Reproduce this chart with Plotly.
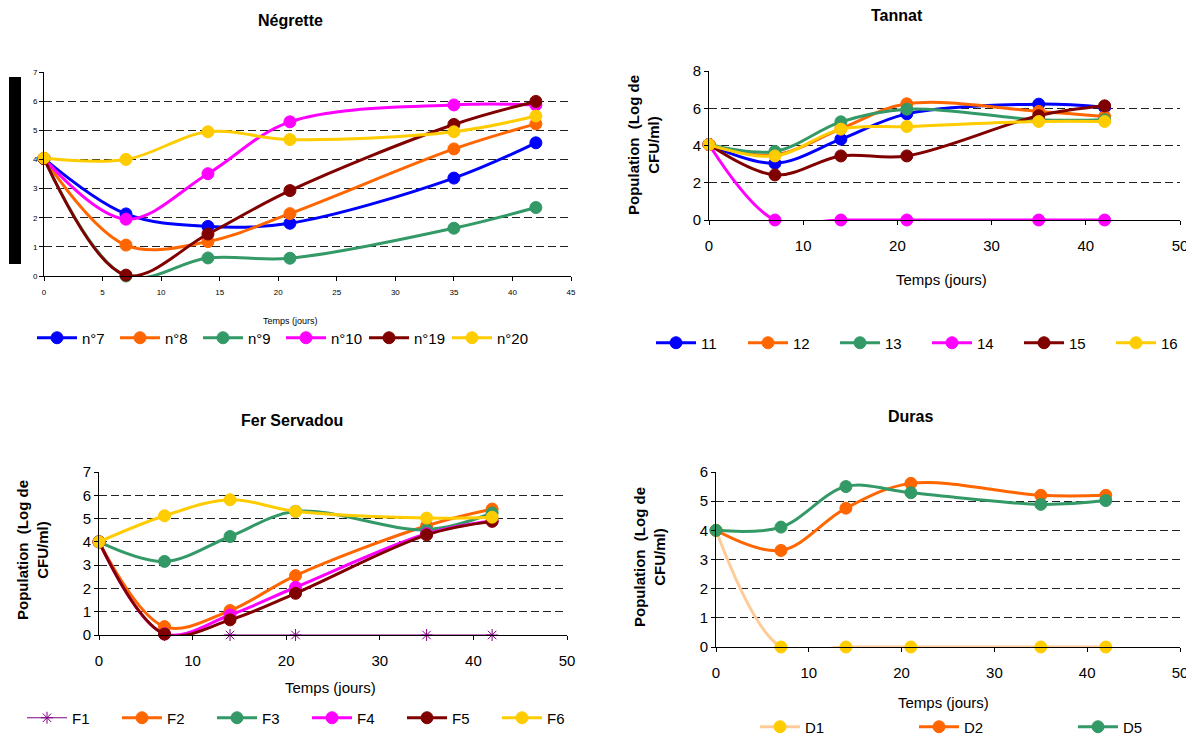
import plotly.graph_objects as go

# The page body has an 8px default margin; the figure is sized so that it
# fills the rest of the 1194x737 window.
PAGE_W, PAGE_H = 1194, 737
OFF = 8
W, H = PAGE_W - OFF, PAGE_H - OFF

days = [0, 7, 14, 21, 35, 42]

# Négrette
neg_names = ["n°7", "n°8", "n°9", "n°10", "n°19", "n°20"]
neg_n7 = [4.03, 2.13, 1.70, 1.81, 3.36, 4.57]
neg_n8 = [4.03, 1.06, 1.18, 2.14, 4.36, 5.22]
neg_n9 = [4.03, 0.0, 0.62, 0.61, 1.64, 2.35]
neg_n10 = [4.03, 1.95, 3.51, 5.29, 5.87, 5.87]
neg_n19 = [4.03, 0.03, 1.44, 2.93, 5.20, 5.99]
neg_n20 = [4.05, 4.00, 4.95, 4.68, 4.95, 5.49]

# Tannat
tan_names = ["11", "12", "13", "14", "15", "16"]
tan_11 = [4.05, 3.05, 4.34, 5.70, 6.22, 6.05]
tan_12 = [4.05, 3.50, 4.90, 6.24, 5.83, 5.56]
tan_13 = [4.05, 3.68, 5.27, 5.95, 5.38, 5.38]
tan_14 = [4.05, 0.0, 0.0, 0.0, 0.0, 0.0]
tan_15 = [4.05, 2.42, 3.44, 3.44, 5.60, 6.13]
tan_16 = [4.05, 3.44, 4.88, 5.02, 5.29, 5.29]

# Fer Servadou
fer_names = ["F1", "F2", "F3", "F4", "F5", "F6"]
fer_f1 = [4.0, 0.0, 0.0, 0.0, 0.0, 0.0]
fer_f2 = [4.0, 0.36, 1.05, 2.55, 4.69, 5.41]
fer_f3 = [4.0, 3.16, 4.23, 5.31, 4.52, 5.24]
fer_f4 = [4.0, 0.05, 0.86, 2.05, 4.35, 4.90]
fer_f5 = [4.0, 0.04, 0.65, 1.79, 4.30, 4.88]
fer_f6 = [4.0, 5.12, 5.81, 5.31, 5.02, 5.06]

# Duras
dur_names = ["D1", "D2", "D5"]
dur_d1 = [4.0, 0.0, 0.0, 0.0, 0.0, 0.0]
dur_d2 = [4.0, 3.31, 4.76, 5.61, 5.20, 5.20]
dur_d5 = [4.0, 4.11, 5.50, 5.29, 4.89, 5.02]

BLUE = "#0000FF"
ORANGE = "#FF6600"
GREEN = "#339966"
MAGENTA = "#FF00FF"
DRED = "#800000"
YELLOW = "#FFCC00"
PURPLE = "#800080"
PEACH = "#FFCC99"

FONT = "Liberation Sans, Arial, sans-serif"

fig = go.Figure()


def add(xa, ya, leg, name, ys, color, msize, lw=3, mcolor=None, symbol="circle"):
    fig.add_trace(go.Scatter(
        x=days, y=ys, name=name, mode="lines+markers",
        line=dict(color=color, width=lw, shape="spline", smoothing=1.0),
        marker=dict(color=mcolor or color, size=msize, symbol=symbol,
                    line=dict(color=mcolor or color, width=1)),
        xaxis=xa, yaxis=ya, legend=leg, cliponaxis=False,
    ))


neg_series = [neg_n7, neg_n8, neg_n9, neg_n10, neg_n19, neg_n20]
tan_series = [tan_11, tan_12, tan_13, tan_14, tan_15, tan_16]
cols6 = [BLUE, ORANGE, GREEN, MAGENTA, DRED, YELLOW]

for nm, ys, c in zip(neg_names, neg_series, cols6):
    add("x", "y", "legend", nm, ys, c, 12)
for nm, ys, c in zip(tan_names, tan_series, cols6):
    add("x2", "y2", "legend2", nm, ys, c, 12)

add("x3", "y3", "legend3", "F1", fer_f1, PURPLE, 10, lw=1.2, symbol="asterisk-open")
for nm, ys, c in zip(fer_names[1:], [fer_f2, fer_f3, fer_f4, fer_f5, fer_f6],
                     [ORANGE, GREEN, MAGENTA, DRED, YELLOW]):
    add("x3", "y3", "legend3", nm, ys, c, 12)

add("x4", "y4", "legend4", "D1", dur_d1, PEACH, 12, mcolor=YELLOW)
add("x4", "y4", "legend4", "D2", dur_d2, ORANGE, 12)
add("x4", "y4", "legend4", "D5", dur_d5, GREEN, 12)


def px_x(p):
    return (p - OFF) / W


def px_y(p):
    return 1 - (p - OFF) / H


def axes(xdom, ydom, xr, xd, yr, yd, fs, xstand):
    xa = dict(domain=xdom, range=xr, dtick=xd, tick0=0, showgrid=False,
              showline=True, linecolor="black", linewidth=1, ticks="outside",
              ticklen=4, tickcolor="black", zeroline=False,
              ticklabelstandoff=xstand,
              tickfont=dict(family=FONT, size=fs, color="black"))
    ya = dict(domain=ydom, range=yr, dtick=yd, tick0=0, showgrid=True,
              gridcolor="#222222", griddash="8px,4px", gridwidth=1,
              showline=True, linecolor="black", linewidth=1, ticks="outside",
              ticklen=4, tickcolor="black", zeroline=False,
              tickfont=dict(family=FONT, size=fs, color="black"))
    return xa, ya


x1, y1 = axes([px_x(44), px_x(571)], [px_y(276), px_y(72)], [0, 45], 5, [0, 7], 1, 8, 4)
x2, y2 = axes([px_x(709), px_x(1180)], [px_y(220), px_y(71)], [0, 50], 10, [0, 8], 2, 15, 8)
x3, y3 = axes([px_x(99), px_x(567)], [px_y(635), px_y(472)], [0, 50], 10, [0, 7], 1, 15, 8)
x4, y4 = axes([px_x(716), px_x(1180)], [px_y(647), px_y(472)], [0, 50], 10, [0, 6], 1, 15, 8)

x1.update(anchor="y"); y1.update(anchor="x")
x2.update(anchor="y2"); y2.update(anchor="x2")
x3.update(anchor="y3"); y3.update(anchor="x3")
x4.update(anchor="y4"); y4.update(anchor="x4")


def leg(x, y, ew, fs=15):
    return dict(orientation="h", x=x, y=y, xanchor="left", yanchor="middle",
                entrywidth=ew, entrywidthmode="pixels",
                font=dict(family=FONT, size=fs, color="black"),
                bgcolor="rgba(0,0,0,0)", itemwidth=40, tracegroupgap=0)


annotations = []


def text(x, y, s, size, bold=False, angle=0):
    annotations.append(dict(
        x=px_x(x), y=px_y(y), xref="paper", yref="paper", showarrow=False,
        text=f"<b>{s}</b>" if bold else s, textangle=angle,
        font=dict(family=FONT, size=size, color="black"),
        xanchor="center", yanchor="middle"))


text(290, 20, "Négrette", 16, bold=True)
text(897, 15, "Tannat", 16, bold=True)
text(292, 420, "Fer Servadou", 16, bold=True)
text(910, 416, "Duras", 16, bold=True)

text(290, 321, "Temps (jours)", 9)
text(941, 279, "Temps (jours)", 15)
text(330, 687, "Temps (jours)", 15)
text(943, 702, "Temps (jours)", 15)

ytitle = "Population  (Log de<br>CFU/ml)"
text(644, 145, ytitle, 15, bold=True, angle=-90)
text(32, 550, ytitle, 15, bold=True, angle=-90)
text(649, 557, ytitle, 15, bold=True, angle=-90)

fig.update_layout(
    width=W, height=H,
    margin=dict(l=0, r=0, t=0, b=0, pad=0, autoexpand=False),
    paper_bgcolor="white", plot_bgcolor="white",
    font=dict(family=FONT, color="black"),
    xaxis=x1, yaxis=y1, xaxis2=x2, yaxis2=y2,
    xaxis3=x3, yaxis3=y3, xaxis4=x4, yaxis4=y4,
    legend=leg(px_x(32), px_y(338), 28, 15),
    legend2=leg(px_x(651), px_y(343), 37, 15),
    legend3=leg(px_x(22), px_y(718), 40, 15),
    legend4=leg(px_x(755), px_y(727), 104, 15),
    annotations=annotations,
    shapes=[dict(type="rect", xref="paper", yref="paper",
                 x0=px_x(9), x1=px_x(21), y0=px_y(264), y1=px_y(77),
                 fillcolor="black", line=dict(width=0))],
    showlegend=True,
)

fig.write_html("out.html")
